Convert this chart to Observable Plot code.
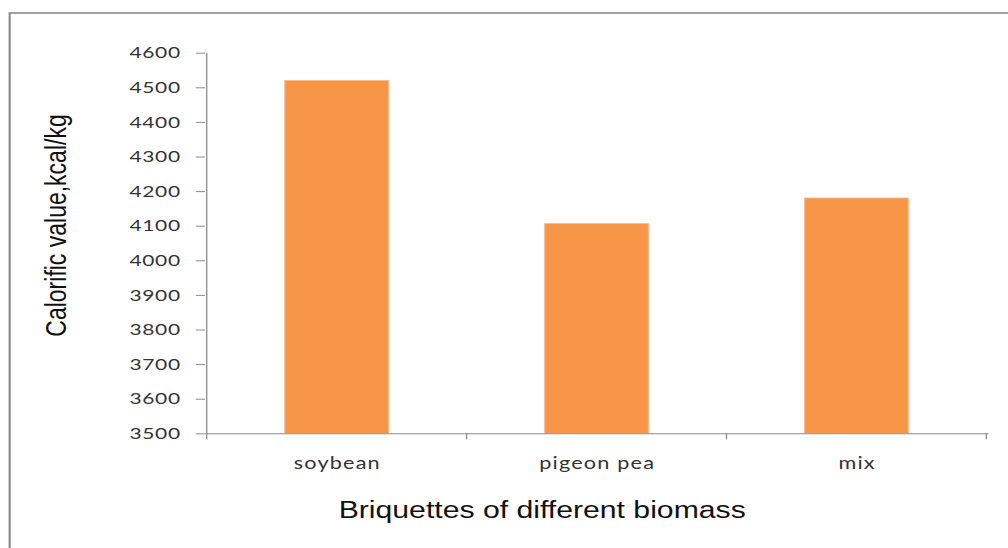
<!DOCTYPE html>
<html><head><meta charset="utf-8">
<script src="https://cdn.jsdelivr.net/npm/d3@7"></script>
<script src="https://cdn.jsdelivr.net/npm/@observablehq/plot@0.6"></script>
<style>html,body{margin:0;padding:0;background:#fff;overflow:hidden}</style>
</head><body><div id="chart"></div>
<script>
// ---- data ----
const biomass = ["soybean", "pigeon pea", "mix"];
const calorific = [4520, 4106, 4180];
const yTicks = [3500, 3600, 3700, 3800, 3900, 4000, 4100, 4200, 4300, 4400, 4500, 4600];
const yTitle = "Calorific value,kcal/kg";
const xTitle = "Briquettes of different biomass";

const data = biomass.map((b, i) => ({biomass: b, value: calorific[i]}));

// ---- layout (the reference is horizontally stretched, so draw narrow and stretch) ----
const W = 1008, H = 548, SX = 1.3125, IW = W / SX;
const yMin = yTicks[0], yMax = yTicks[yTicks.length - 1];
const axisColor = "#8c8c8c";
const mL = 205 / SX, mR = IW - 988.5 / SX, mT = 52.7, mB = H - 433.3;
const frameCx = (mL + (IW - mR)) / 2, frameCy = (mT + (H - mB)) / 2;

const chart = Plot.plot({
  width: IW, height: H,
  marginLeft: mL, marginRight: mR, marginTop: mT, marginBottom: mB,
  style: {fontFamily: "Lato, sans-serif", background: "#fff", overflow: "visible"},
  x: {domain: biomass, paddingInner: 0.6, paddingOuter: 0.3, axis: null},
  y: {domain: [yMin, yMax], axis: null},
  marks: [
    Plot.frame({stroke: "#898989", strokeWidth: 1.6,
      insetLeft: -(mL - 9 / SX), insetTop: -(mT - 12.5), insetRight: -100, insetBottom: -200}),
    Plot.barY(data, {x: "biomass", y1: yMin, y2: "value", fill: "#F79646", stroke: "#FAB98A", strokeWidth: 0.8}),
    Plot.ruleY([yMin], {stroke: axisColor}),
    Plot.axisY({ticks: yTicks, tickSize: 7, tickPadding: 12, stroke: axisColor, fill: "#333", label: null,
      fontSize: 16, tickFormat: d => String(d)}),
    Plot.axisX({tickSize: 0, tickPadding: 23, fill: "#333", fontSize: 16.5, label: null}),
    Plot.text([xTitle], {frameAnchor: "bottom", lineAnchor: "top", dx: 412.6 - frameCx, dy: 67.4,
      fontSize: 23, fontFamily: "'Liberation Sans', Arial, sans-serif", fill: "#111"}),
    Plot.text([yTitle], {frameAnchor: "left", rotate: -90, textAnchor: "middle", lineAnchor: "top",
      dx: 33.8 - mL, dy: 225 - frameCy,
      fontSize: 23, fontFamily: "'Liberation Sans', Arial, sans-serif", fill: "#111"})
  ]
});

// axis line and category boundary ticks, placed with the chart's own scales
const xs = chart.scale("x"), ys = chart.scale("y");
const gap = (xs.step - xs.bandwidth) / 2;
const bounds = biomass.map(c => xs.apply(c) - gap);
bounds.push(xs.apply(biomass[biomass.length - 1]) + xs.bandwidth + gap);
const g = d3.select(chart).append("g").attr("stroke", axisColor).attr("stroke-width", 1);
g.append("line").attr("x1", bounds[0]).attr("x2", bounds[0])
  .attr("y1", ys.apply(yMax)).attr("y2", ys.apply(yMin));
g.selectAll("line.t").data(bounds).join("line").attr("class", "t")
  .attr("x1", d => d).attr("x2", d => d)
  .attr("y1", ys.apply(yMin)).attr("y2", ys.apply(yMin) + 6);

// slightly looser spacing of tick labels, as in the reference
d3.select(chart).selectAll('[aria-label="x-axis tick label"]').attr("letter-spacing", "0.9px");
d3.select(chart).selectAll('[aria-label="y-axis tick label"]').attr("letter-spacing", "0.5px");

chart.setAttribute("width", W);
chart.setAttribute("height", H);
chart.setAttribute("preserveAspectRatio", "none");
chart.style.width = W + "px";
chart.style.height = H + "px";
chart.style.maxWidth = "none";
document.getElementById("chart").append(chart);
</script>
</body></html>
